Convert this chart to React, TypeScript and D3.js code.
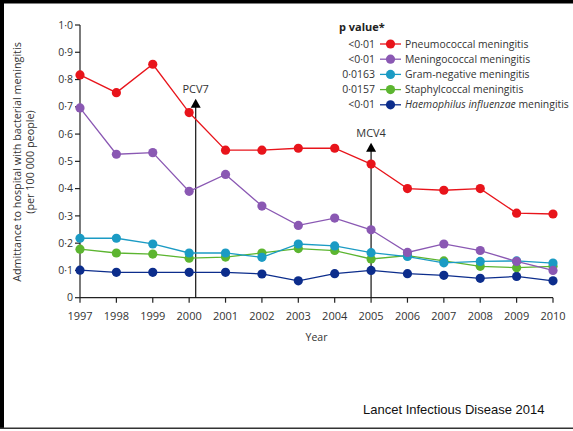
import React from 'react';
import * as d3 from 'd3';

const years = [1997, 1998, 1999, 2000, 2001, 2002, 2003, 2004, 2005, 2006, 2007, 2008, 2009, 2010];
const pneumococcal = [0.817, 0.752, 0.856, 0.679, 0.541, 0.541, 0.548, 0.548, 0.49, 0.40, 0.394, 0.40, 0.31, 0.307];
const meningococcal = [0.696, 0.526, 0.532, 0.39, 0.452, 0.336, 0.265, 0.292, 0.249, 0.166, 0.197, 0.173, 0.133, 0.10];
const gramNegative = [0.218, 0.218, 0.197, 0.164, 0.164, 0.148, 0.197, 0.19, 0.165, 0.151, 0.128, 0.133, 0.135, 0.127];
const staphylococcal = [0.178, 0.164, 0.16, 0.145, 0.149, 0.164, 0.18, 0.173, 0.142, 0.154, 0.135, 0.115, 0.11, 0.115];
const haemophilus = [0.101, 0.093, 0.093, 0.093, 0.093, 0.087, 0.062, 0.088, 0.10, 0.088, 0.082, 0.071, 0.078, 0.062];

const seriesNames = ['Pneumococcal meningitis', 'Meningococcal meningitis', 'Gram-negative meningitis', 'Staphylcoccal meningitis', 'meningitis'];
const pValues = ['<0·01', '<0·01', '0·0163', '0·0157', '<0·01'];
const colors = ['#e8141b', '#8a58b3', '#1b9bc4', '#5cb530', '#0c2d8c'];
const seriesValues = [pneumococcal, meningococcal, gramNegative, staphylococcal, haemophilus];

const yTicks = [0, 0.1, 0.2, 0.3, 0.4, 0.5, 0.6, 0.7, 0.8, 0.9, 1.0];
const vaccines = [
  { label: 'PCV7', year: 2000.18, top: 0.73 },
  { label: 'MCV4', year: 2005, top: 0.568 },
];

const W = 573;
const H = 431;
const font = '"Open Sans", "Noto Sans", sans-serif';

const fmt = (v: number) => (v === 0 ? '0' : v.toFixed(1).replace('.', '·'));

export default function App() {
  const x = d3.scaleLinear().domain([1997, 2010]).range([80, 553]);
  const y = d3.scaleLinear().domain([0, 1]).range([297.7, 25]);
  const line = d3.line<number>().x((_, i) => x(years[i])).y(d => y(d));

  return (
    <div style={{ position: 'absolute', left: 0, top: 0 }}>
      <svg width={W} height={H} style={{ display: 'block', background: '#fff' }} fontFamily={font}>
        {/* frame */}
        <rect x={0} y={0} width={W} height={3.5} fill='#000' />
        <rect x={0} y={0} width={4} height={429} fill='#000' />
        <rect x={0} y={427.5} width={W} height={1.5} fill='#333' />

        {/* y axis */}
        <line x1={x(1997)} x2={x(1997)} y1={y(0)} y2={y(1)} stroke='#222' strokeWidth={1.2} />
        {yTicks.map(t => (
          <g key={t}>
            <line x1={x(1997) - 5} x2={x(1997)} y1={y(t)} y2={y(t)} stroke='#222' strokeWidth={1.2} />
            <text x={x(1997) - 7} y={y(t)} dy='0.35em' textAnchor='end' fontSize={10.5} fill='#333'>{fmt(t)}</text>
          </g>
        ))}

        {/* x axis */}
        <line x1={x(1997)} x2={x(2010)} y1={y(0)} y2={y(0)} stroke='#222' strokeWidth={1.2} />
        {years.map(yr => (
          <g key={yr}>
            <line x1={x(yr)} x2={x(yr)} y1={y(0)} y2={y(0) + 5} stroke='#222' strokeWidth={1.2} />
            <text x={x(yr)} y={320} textAnchor='middle' fontSize={11} fill='#333'>{yr}</text>
          </g>
        ))}
        <text x={(x(1997) + x(2010)) / 2} y={341} textAnchor='middle' fontSize={10.5} fill='#333'>Year</text>

        {/* y label */}
        <g transform={`translate(21,162) rotate(-90)`}>
          <text textAnchor='middle' fontSize={10.8} fill='#333'>Admittance to hospital with bacterial meningitis</text>
          <text y={13} textAnchor='middle' fontSize={10.8} fill='#333'>(per 100 000 people)</text>
        </g>

        {/* vaccine markers */}
        {vaccines.map(v => (
          <g key={v.label}>
            <line x1={x(v.year)} x2={x(v.year)} y1={y(0)} y2={y(v.top) + 8} stroke='#111' strokeWidth={1.2} />
            <path d={`M${x(v.year)},${y(v.top)} L${x(v.year) - 5},${y(v.top) + 9} L${x(v.year) + 5},${y(v.top) + 9} Z`} fill='#000' />
            <text x={x(v.year)} y={y(v.top) - 6} textAnchor='middle' fontSize={11} fill='#333'>{v.label}</text>
          </g>
        ))}

        {/* series, drawn bottom-up so red is on top */}
        {seriesValues.map((vals, s) => s).reverse().map(s => (
          <g key={s}>
            <path d={line(seriesValues[s]) || ''} fill='none' stroke={colors[s]} strokeWidth={1.3} />
            {seriesValues[s].map((v, i) => (
              <circle key={i} cx={x(years[i])} cy={y(v)} r={4.6} fill={colors[s]} />
            ))}
          </g>
        ))}

        {/* legend */}
        <text x={339} y={31} fontSize={11} fontWeight='bold' fill='#222'>p value*</text>
        {seriesNames.map((name, i) => {
          const ly = 44 + i * 15.2;
          return (
            <g key={name}>
              <text x={375} y={ly} dy='0.35em' textAnchor='end' fontSize={10.5} fill='#333'>{pValues[i]}</text>
              <line x1={380} x2={401} y1={ly} y2={ly} stroke={colors[i]} strokeWidth={1.3} />
              <circle cx={390.5} cy={ly} r={4.6} fill={colors[i]} />
              <text x={405} y={ly} dy='0.35em' fontSize={10.4} fill='#333'>
                {i === 4 ? (
                  <>
                    <tspan fontStyle='italic'>Haemophilus influenzae</tspan> {name}
                  </>
                ) : name}
              </text>
            </g>
          );
        })}

        {/* source */}
        <text x={363} y={414} fontSize={13} fill='#111' fontFamily='"Liberation Sans", "Noto Sans", sans-serif'>Lancet Infectious Disease 2014</text>
      </svg>
    </div>
  );
}
